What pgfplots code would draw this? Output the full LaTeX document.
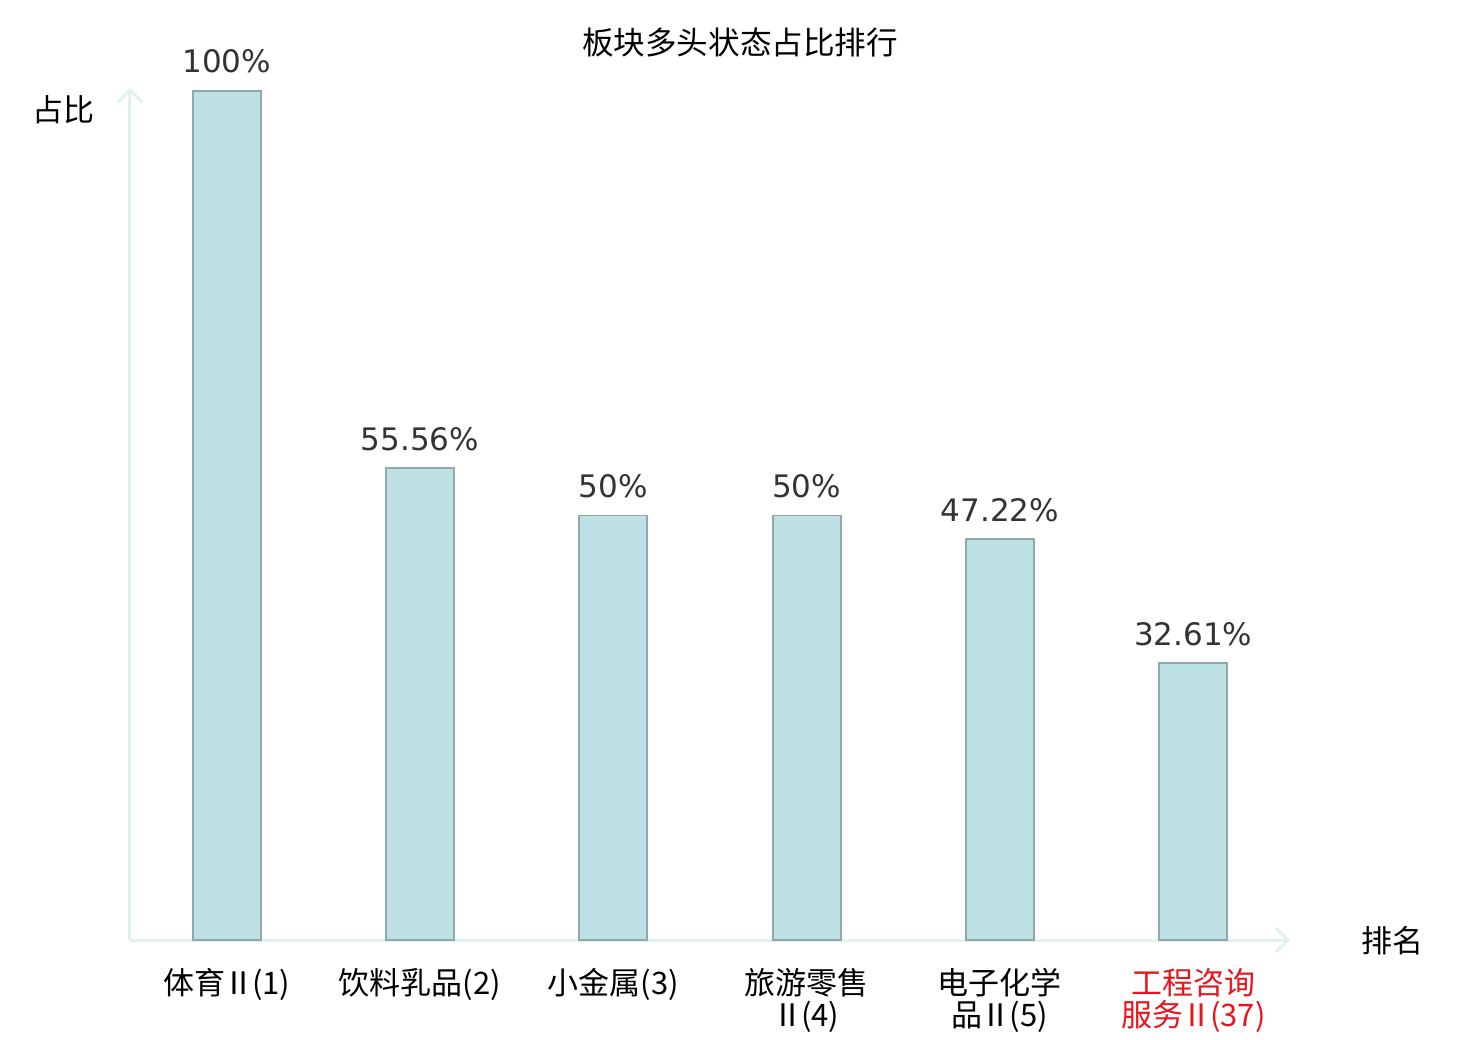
\documentclass[border=0pt]{standalone}
\usepackage{pgfplots}
\pgfplotsset{compat=1.18}
\usepackage{fontspec}
\setmainfont{DejaVu Sans}
\newfontfamily\cjk{Noto Sans CJK SC}
\usetikzlibrary{arrows.meta}
\definecolor{axiscol}{HTML}{DFF2EF}
\definecolor{barfill}{HTML}{BCE0E3}
\definecolor{baredge}{HTML}{8FA8AA}
\definecolor{valcol}{HTML}{333333}
\definecolor{redlab}{HTML}{E8141E}
\newcommand{\rn}{\kern-1pt Ⅱ\kern-1pt}
\begin{document}
\begin{tikzpicture}
\begin{axis}[
  at={(0,0)}, anchor=south west,
  scale only axis,
  width=580pt, height=426pt,
  xmin=-0.5, xmax=5.5, ymin=0, ymax=100.35,
  enlargelimits=false,
  axis lines=left,
  axis line style={draw=axiscol, line width=1.5pt, -{Straight Barb[length=6pt,width=12pt,line width=1.5pt]}},
  ytick=\empty,
  xtick={0,1,2,3,4,5},
  major tick length=0pt,
  xticklabels={
    {体育\rn(1)},
    {饮料乳品(2)},
    {小金属(3)},
    {旅游零售\\\rn(4)},
    {电子化学\\品\rn(5)},
    {\textcolor{redlab}{工程咨询}\\\textcolor{redlab}{服务\rn(37)}}
  },
  xticklabel style={font=\cjk\fontsize{15.5}{16}\selectfont, align=center, yshift=-10.5pt, text=black},
  ybar, bar width=34pt,
  point meta=explicit symbolic,
  nodes near coords={\pgfplotspointmeta},
  nodes near coords style={font=\fontsize{15.5}{18}\selectfont, text=valcol, yshift=5pt},
  clip=false,
]
\addplot[fill=barfill, draw=baredge, line width=0.9pt] coordinates {
  (0,100) [100\%]
  (1,55.56) [55.56\%]
  (2,50) [50\%]
  (3,50) [50\%]
  (4,47.22) [47.22\%]
  (5,32.61) [32.61\%]
};
\end{axis}
\node[font=\cjk\fontsize{15.8}{18}\selectfont] at (305pt,449pt) {板块多头状态占比排行};
\node[font=\cjk\fontsize{15.5}{18}\selectfont] at (-33pt,415pt) {占比};
\node[font=\cjk\fontsize{15.5}{18}\selectfont] at (631pt,-0.5pt) {排名};
\pgfresetboundingbox
\path[use as bounding box] (-65pt,-50pt) rectangle (675pt,470pt);
\end{tikzpicture}
\end{document}
